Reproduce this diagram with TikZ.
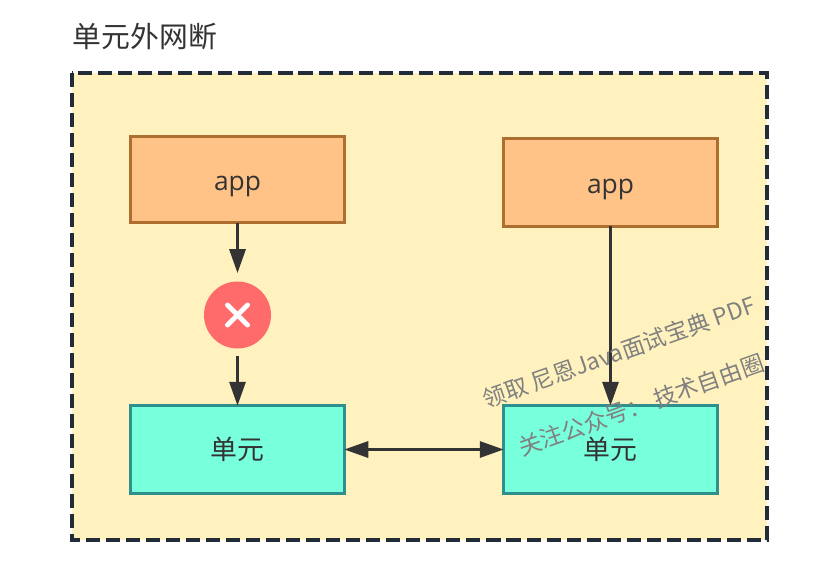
\documentclass[tikz,border=0pt]{standalone}
\usepackage{fontspec}
\setmainfont{Open Sans}
\newfontfamily\cjk{Noto Sans CJK SC}
\usetikzlibrary{arrows.meta, shapes.misc}
\definecolor{zonefill}{RGB}{255,242,190}
\definecolor{zoneline}{RGB}{33,44,56}
\definecolor{appfill}{RGB}{255,194,135}
\definecolor{appline}{RGB}{174,110,48}
\definecolor{unitfill}{RGB}{120,255,220}
\definecolor{unitline}{RGB}{46,143,140}
\definecolor{stopred}{RGB}{255,107,107}
\definecolor{inkdark}{RGB}{51,51,51}
\tikzset{
  appbox/.style={draw=appline, fill=appfill, line width=1.6pt, outer sep=0pt, minimum width=4.27cm, text=inkdark, text depth=0pt, text height=12.6pt, font=\fontsize{15}{18}\selectfont},
  unitbox/.style={draw=unitline, fill=unitfill, line width=1.6pt, outer sep=0pt, minimum width=4.27cm, minimum height=1.75cm, text=inkdark, font=\cjk\fontsize{15.3}{18}\selectfont},
  flow/.style={inkdark, line width=1.8pt, -{Triangle[length=.48cm,width=.32cm]}},
  watermark/.style={text=black!50, rotate=19.5, font=\cjk\fontsize{13.1}{15}\selectfont}
}

\begin{document}
\begin{tikzpicture}
  \path[use as bounding box, fill=white] (0,0) rectangle (16.76,11.42);
  \draw[zoneline, fill=zonefill, line width=1.8pt, dash pattern=on 8pt off 3.4pt] (1.44,9.96) rectangle (15.34,0.62);
  \node[anchor=west, inner sep=0pt, text=inkdark, font=\cjk\fontsize{16.4}{20}\selectfont] (title) at (1.45,10.68) {单元外网断};
  \node[appbox, minimum height=1.72cm] (appA) at (4.75,7.83) {app};
  \node[appbox, minimum height=1.76cm] (appB) at (12.21,7.77) {app};
  \node[unitbox] (unitA) at (4.75,2.43) {单元};
  \node[unitbox] (unitB) at (12.21,2.43) {单元};
  \node[circle, fill=stopred, minimum size=1.34cm, inner sep=0pt] (stop) at (4.75,5.12) {};
  \node[cross out, draw=white, line width=2.8pt, line cap=round, minimum size=.4cm, inner sep=0pt, outer sep=0pt] (stopmark) at (stop) {};
  \draw[flow, shorten >=.16cm] (appA) -- (stop);
  \draw[flow, shorten <=.14cm] (stop) -- (unitA);
  \draw[flow] (appB) -- (unitB);
  \draw[inkdark, line width=1.8pt, {Triangle[length=.48cm,width=.32cm]}-{Triangle[length=.48cm,width=.32cm]}] (unitA) -- (unitB);
  \node[watermark] (markA) at (12.38,4.38) {领取 尼恩Java面试宝典 PDF};
  \node[watermark] (markB) at (12.82,3.32) {关注公众号： 技术自由圈};
\end{tikzpicture}
\end{document}
